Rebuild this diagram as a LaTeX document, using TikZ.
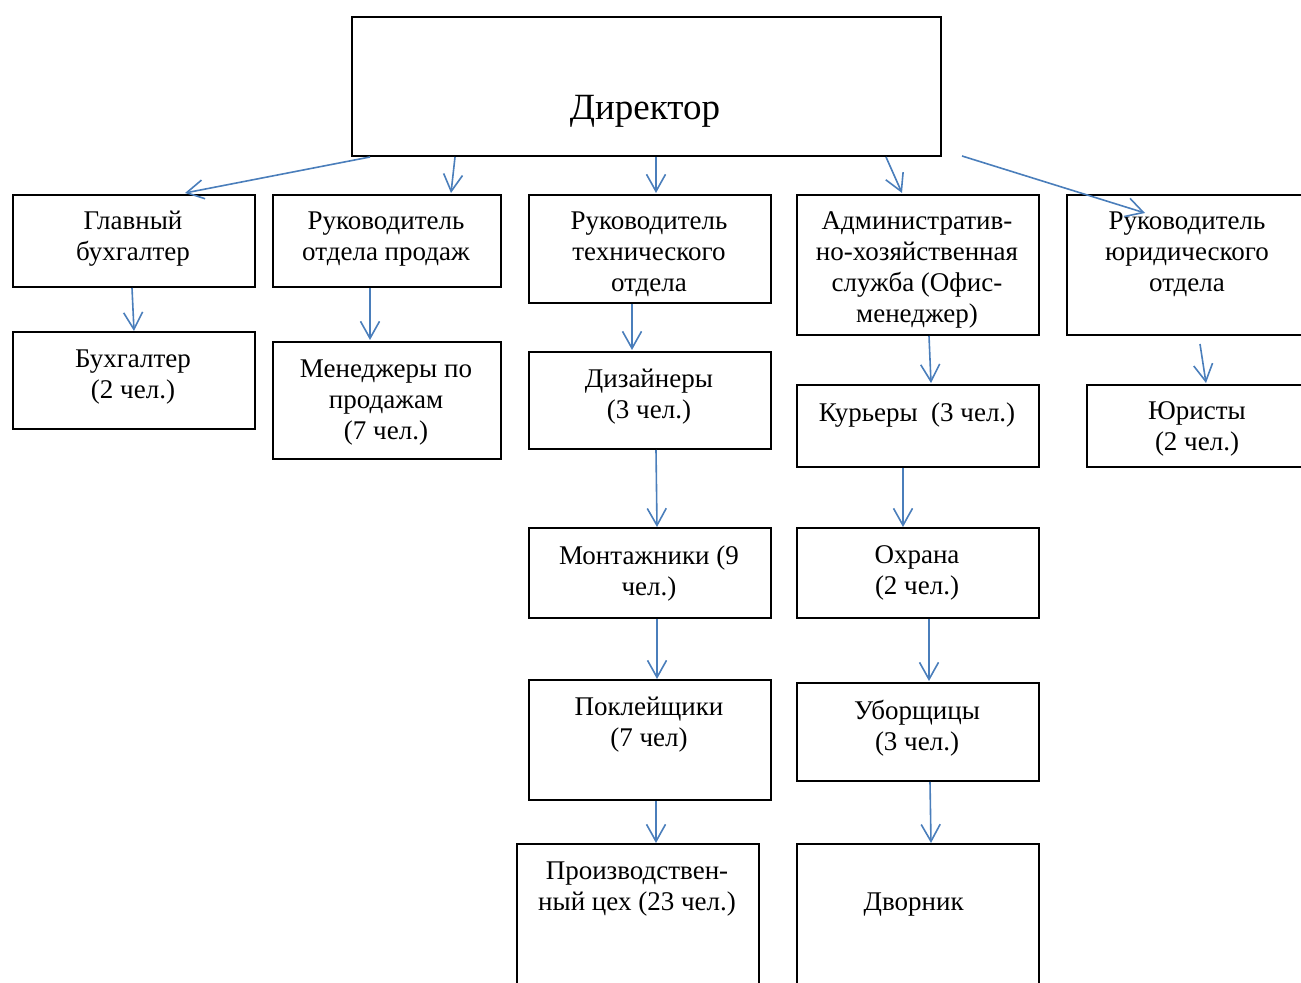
\documentclass[tikz,border=0pt]{standalone}
\usepackage{fontspec}
\setmainfont{Liberation Serif}
\usepackage{tikz}
\usetikzlibrary{positioning, arrows.meta, calc}
\definecolor{LinkBlue}{HTML}{4A7EBB}
\definecolor{BoxLine}{HTML}{000000}

\begin{document}
\begin{tikzpicture}[x=0.5pt, y=-0.5pt,
  orgbox/.style={draw=BoxLine, line width=1pt, anchor=north west, inner sep=0pt},
  orgtext/.style={anchor=north, inner sep=0pt, align=center,
    font=\fontsize{13.5}{15.5}\selectfont},
  link/.style={LinkBlue, line width=0.8pt, -{Straight Barb[length=8.5pt, width=9.5pt]}}]

  %% Page frame (boxes on the right and bottom run off the page)
  \useasboundingbox (0,0) rectangle (1301,983);
  \clip (0,0) rectangle (1301,983);

  %% Director
  \node[orgbox, minimum width={589*0.5pt}, minimum height={139*0.5pt}]
    (dir) at (351,16) {};
  \node[anchor=base, font=\fontsize{18.5}{21}\selectfont] (dir-t) at (645,120) {Директор};

  %% Department boxes: name / left / top / right / bottom / text top / text
  \foreach \nm/\xa/\ya/\xb/\yb/\ty/\txt in {
    glav/12/194/254/286/211/{Главный\\бухгалтер},
    prod/272/194/500/286/211/{Руководитель\\отдела продаж},
    tech/528/194/770/302/211/{Руководитель\\технического\\отдела},
    adm/796/194/1038/334/211/{Административ-\\но-хозяйственная\\служба (Офис-\\менеджер)},
    jur/1066/194/1308/334/211/{Руководитель\\юридического\\отдела},
    buh/12/331/254/428/349/{Бухгалтер\\(2 чел.)},
    men/272/341/500/458/359/{Менеджеры по\\продажам\\(7 чел.)},
    diz/528/351/770/448/369/{Дизайнеры\\(3 чел.)},
    kur/796/384/1038/466/402/{Курьеры\ \ (3 чел.)},
    jurist/1086/384/1308/466/401/{Юристы\\(2 чел.)},
    mont/528/527/770/617/545/{Монтажники (9\\чел.)},
    ohr/796/527/1038/617/545/{Охрана\\(2 чел.)},
    pokl/528/679/770/799/697/{Поклейщики\\(7 чел)},
    ubor/796/682/1038/780/700/{Уборщицы\\(3 чел.)},
    proizv/516/843/758/1010/861/{Производствен-\\ный цех (23 чел.)},
    dvor/796/843/1038/1010/892/{Дворник}
  }{
    \node[orgbox, minimum width={(\xb-\xa)*0.5pt}, minimum height={(\yb-\ya)*0.5pt}]
      (\nm) at (\xa,\ya) {};
    \node[orgtext] (\nm-t) at ({(\xa+\xb)/2}, \ty) {\txt};
  }

  %% Links: from / offset on its bottom edge / to / offset from its top left
  \foreach \sa/\sx/\sy/\ta/\tx/\tyy in {
    dir/19/0/glav/173/-1,
    dir/104/0/prod/179/-1,
    dir/305/0/tech/128/-1,
    dir/535/0/adm/106/-1,
    dir/611/-1/jur/79/19,
    glav/120/0/buh/122/0,
    prod/98/0/men/98/-1,
    tech/104/0/diz/104/-1,
    adm/133/0/kur/135/-1,
    jur/134/8/jurist/120/-1,
    diz/128/0/mont/129/0,
    kur/107/0/ohr/107/0,
    mont/129/0/pokl/129/0,
    ohr/133/0/ubor/133/-1,
    pokl/128/0/proizv/140/0,
    ubor/134/0/dvor/135/0
  }{
    \draw[link] ($(\sa.south west)+(\sx,\sy)$) -- ($(\ta.north west)+(\tx,\tyy)$);
  }

\end{tikzpicture}
\end{document}
